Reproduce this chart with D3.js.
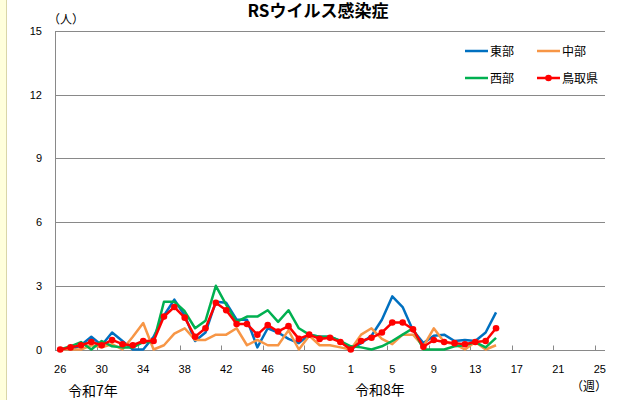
<!DOCTYPE html>
<html>
<head>
<meta charset="utf-8">
<script src="https://cdn.jsdelivr.net/npm/d3@7"></script>
<style>
  body { margin: 0; background: #fff; }
  text { font-family: "Noto Sans CJK JP", "Noto Sans", sans-serif; fill: #000; }
</style>
</head>
<body>
<div id="chart"></div>
<script>
// 週（令和7年26週〜令和8年25週）
var weeks = [26,27,28,29,30,31,32,33,34,35,36,37,38,39,40,41,42,43,44,45,46,47,48,49,50,51,52,53,
             1,2,3,4,5,6,7,8,9,10,11,12,13,14,15,16,17,18,19,20,21,22,23,24,25];
var tickWeeks = [26,30,34,38,42,46,50,1,5,9,13,17,21,25];
var yTicks = [0,3,6,9,12,15];

// 定点当たり報告数（26週〜15週）
var east    = [0,0,0.2,0.6,0.2,0.8,0.4,0,0,0.6,1.6,2.35,1.6,0.4,0.8,2.25,2.2,1.4,1.4,0.1,1.0,0.8,
               0.5,0.3,0.7,0.6,0.6,0.4,0,0.3,0.65,1.4,2.5,2.0,0.9,0.3,0.65,0.7,0.4,0.45,0.4,0.8,1.75];
var central = [0,0,0,0.2,0.1,0.25,0,0.6,1.25,0,0.2,0.75,1.0,0.45,0.45,0.7,0.7,1.0,0.2,0.45,0.2,0.2,
               0.9,0,0.65,0.2,0.2,0.1,0,0.7,1.0,0.5,0.25,0.7,0.7,0.15,1.0,0.35,0.25,0,0.35,0,0.2];
var west    = [0,0.15,0.35,0,0.4,0.15,0.1,0.1,0.35,0.35,2.25,2.25,1.8,1.0,1.35,3.0,2.1,1.3,1.55,1.55,1.85,1.3,
               1.85,1.0,0.7,0.6,0.6,0.4,0.15,0.1,0,0.15,0.4,0.7,1.0,0,0,0,0.15,0.2,0.35,0.1,0.55];
var pref    = [0,0.1,0.2,0.35,0.2,0.45,0.25,0.2,0.4,0.4,1.55,2.0,1.5,0.6,1.0,2.2,1.85,1.2,1.2,0.7,1.15,0.85,
               1.1,0.5,0.7,0.5,0.55,0.35,0,0.4,0.55,0.8,1.27,1.27,0.95,0.13,0.45,0.35,0.3,0.25,0.35,0.4,1.0];

var seriesNames  = ["東部", "中部", "西部", "鳥取県"];
var seriesColors = ["#0070C0", "#F79646", "#00B050", "#FF0000"];
var seriesData   = [east, central, west, pref];

var W = 619, H = 400;
var plotL = 55, plotR = 605, plotT = 31, plotB = 349.5;

var svg = d3.select("#chart").append("svg")
    .attr("width", W)
    .attr("height", H);

// 左端の黄色い帯
svg.append("rect").attr("x", 0).attr("y", 0).attr("width", 6).attr("height", H).attr("fill", "#FFFFDC");
svg.append("line").attr("x1", 6.5).attr("x2", 6.5).attr("y1", 0).attr("y2", H)
   .attr("stroke", "#D9D6A8").attr("stroke-width", 1);

var x = d3.scaleBand().domain(weeks.map(String)).range([plotL, plotR]).padding(0);
var y = d3.scaleLinear().domain([0, 15]).range([plotB, plotT]);
var cx = d => x(String(d)) + x.bandwidth() / 2;

// タイトル
svg.append("text")
   .attr("x", 318).attr("y", 17)
   .attr("text-anchor", "middle")
   .style("font-size", "17px")
   .style("font-weight", "bold")
   .text("RSウイルス感染症");

// 目盛線
svg.append("g")
   .selectAll("line")
   .data(yTicks)
   .enter().append("line")
   .attr("x1", plotL).attr("x2", plotR)
   .attr("y1", d => Math.round(y(d)) + 0.5)
   .attr("y2", d => Math.round(y(d)) + 0.5)
   .attr("stroke", "#898989").attr("stroke-width", 1);

// 縦軸
svg.append("line")
   .attr("x1", plotL + 0.5).attr("x2", plotL + 0.5)
   .attr("y1", y(15)).attr("y2", y(0))
   .attr("stroke", "#898989");

var yAxis = svg.append("g")
   .attr("transform", `translate(${plotL},0)`)
   .call(d3.axisLeft(y).tickValues(yTicks).tickSize(0).tickPadding(13));
yAxis.select(".domain").remove();
yAxis.selectAll("text").style("font-size", "11px").style("font-family", "'Liberation Sans', sans-serif");

// 横軸（内向きの目盛）
var xAxis = svg.append("g")
   .attr("transform", `translate(0,${Math.round(y(0)) + 0.5})`);
xAxis.selectAll(".tk")
   .data(tickWeeks)
   .enter().append("line")
   .attr("x1", d => Math.round(x(String(d))) + 0.5)
   .attr("x2", d => Math.round(x(String(d))) + 0.5)
   .attr("y1", 0).attr("y2", -5)
   .attr("stroke", "#898989");
xAxis.selectAll(".lbl")
   .data(tickWeeks)
   .enter().append("text")
   .attr("x", d => cx(d))
   .attr("y", 22)
   .attr("text-anchor", "middle")
   .style("font-size", "11px")
   .style("font-family", "'Liberation Sans', sans-serif")
   .text(d => d);

// 軸ラベル
svg.append("text").attr("x", 48).attr("y", 24).style("font-size", "12px").text("（人）");
svg.append("text").attr("x", 571).attr("y", 391).style("font-size", "12px").text("（週）");
svg.append("text").attr("x", 68).attr("y", 396).style("font-size", "14px").text("令和7年");
svg.append("text").attr("x", 355).attr("y", 395).style("font-size", "14px").text("令和8年");

// 折れ線
var line = d3.line()
    .x((d, i) => cx(weeks[i]))
    .y(d => y(d));

seriesData.forEach(function(vals, k) {
    svg.append("path")
       .datum(vals)
       .attr("fill", "none")
       .attr("stroke", seriesColors[k])
       .attr("stroke-width", 2.5)
       .attr("stroke-linejoin", "round")
       .attr("d", line);
});

// 鳥取県のマーカー
svg.append("g")
   .selectAll("circle")
   .data(pref)
   .enter().append("circle")
   .attr("cx", (d, i) => cx(weeks[i]))
   .attr("cy", d => y(d))
   .attr("r", 3.3)
   .attr("fill", "#FF0000");

// 凡例
var legendPos = [[465, 51], [537, 51], [465, 78], [537, 78]];
var lg = svg.append("g").selectAll("g")
   .data(seriesNames)
   .enter().append("g")
   .attr("transform", (d, i) => `translate(${legendPos[i][0]},${legendPos[i][1]})`);
lg.append("line")
   .attr("x1", 0).attr("x2", 23)
   .attr("stroke", (d, i) => seriesColors[i])
   .attr("stroke-width", 2.5);
lg.filter(d => d === "鳥取県").append("circle")
   .attr("cx", 11.5).attr("r", 3.3).attr("fill", "#FF0000");
lg.append("text")
   .attr("x", 25).attr("y", 4.5)
   .style("font-size", "12px")
   .text(d => d);
</script>
</body>
</html>
